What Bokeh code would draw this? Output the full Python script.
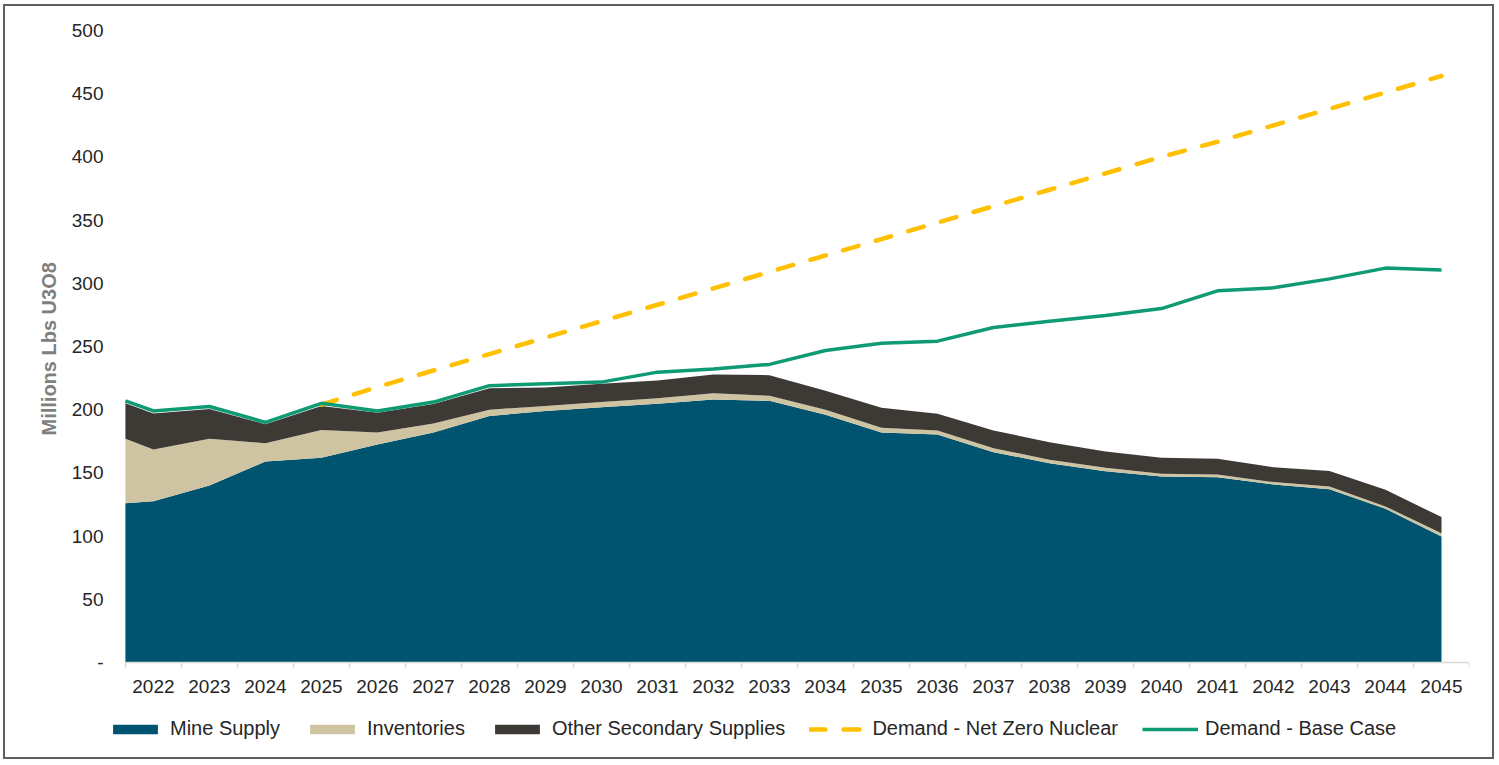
from bokeh.plotting import figure
from bokeh.models import Range1d, FixedTicker, ColumnDataSource, Legend, LegendItem, Title
from bokeh.embed import file_html
from bokeh.resources import INLINE

# ---- data ----
# first point is the left edge of the category axis (half a year before 2022)
years = [2021.5, 2022, 2023, 2024, 2025, 2026, 2027, 2028, 2029, 2030, 2031, 2032,
         2033, 2034, 2035, 2036, 2037, 2038, 2039, 2040, 2041, 2042, 2043, 2044, 2045]
mine_supply = [126, 127.5, 140, 159, 162, 172.5, 182, 195, 199, 202, 204.7, 208,
               207, 196, 182, 180.4, 166.4, 157.7, 151.3, 147.2, 146.6, 140.8, 137, 121.6, 99.7]
inventories = [51, 41, 37, 14.5, 22, 9.5, 7, 5, 4, 4, 4.3, 5,
               4, 4, 3.7, 3.1, 3.1, 2.7, 2.7, 2.1, 2.1, 1.9, 2.2, 1.8, 2.6]
other_secondary = [28, 28.5, 23.5, 15, 19, 15.5, 15.5, 17, 14.5, 14.5, 14, 14.8,
                   16.3, 15, 15.8, 13.2, 14, 13.9, 13, 12.7, 12.4, 11.8, 12.2, 13.2, 12.7]
demand_base = [207, 199, 202.5, 190, 205, 199, 206, 219, 220.5, 221.8, 229.7, 232.2,
               235.8, 246.8, 252.6, 254.2, 265, 270, 274.5, 280, 294, 296.4, 303.5, 312, 310.5]

nz_years = [2025, 2026, 2027, 2028, 2029, 2030, 2031, 2032, 2033, 2034, 2035,
            2036, 2037, 2038, 2039, 2040, 2041, 2042, 2043, 2044, 2045]
demand_net_zero = [204, 218, 231, 244, 257, 270, 283, 296, 309, 322, 335,
                   348, 361, 374, 387, 400, 412, 425, 438, 451, 464]

x_tick_years = [2022, 2023, 2024, 2025, 2026, 2027, 2028, 2029, 2030, 2031, 2032, 2033,
                2034, 2035, 2036, 2037, 2038, 2039, 2040, 2041, 2042, 2043, 2044, 2045]
x_bounds = [2021.5, 2022.5, 2023.5, 2024.5, 2025.5, 2026.5, 2027.5, 2028.5, 2029.5,
            2030.5, 2031.5, 2032.5, 2033.5, 2034.5, 2035.5, 2036.5, 2037.5, 2038.5,
            2039.5, 2040.5, 2041.5, 2042.5, 2043.5, 2044.5, 2045.5]
y_ticks = [0, 50, 100, 150, 200, 250, 300, 350, 400, 450, 500]

series_names = ["Mine Supply", "Inventories", "Other Secondary Supplies"]
series_colors = ["#00546F", "#CFC4A2", "#3D3935"]

FONT = "Liberation Sans"

src = ColumnDataSource(dict(x=years, mine=mine_supply, inv=inventories,
                            other=other_secondary, base=demand_base))
nz_src = ColumnDataSource(dict(x=nz_years, y=demand_net_zero))

# the frame runs down to the bottom (and a little left of the data) so the legend can sit
# inside it, below the x axis that is pinned at y = 0
p = figure(frame_width=1362, frame_height=727,
           x_range=Range1d(2021.18, 2045.5), y_range=Range1d(-75.2, 500),
           output_backend="svg", toolbar_location=None,
           min_border_left=102, min_border_right=23, min_border_top=24, min_border_bottom=0)
p.outline_line_color = None
p.xgrid.visible = False
p.ygrid.visible = False
p.styles = {"border": "2px solid #5f5f5f", "margin-left": "3px", "margin-top": "4px"}

areas = p.varea_stack(["mine", "inv", "other"], x="x", source=src, color=series_colors)
nz = p.line("x", "y", source=nz_src, line_color="#FFC000", line_width=4.5,
            line_dash="16 18", line_cap="round")
base = p.line("x", "base", source=src, line_color="#0E9A72", line_width=3.5, line_join="round")

# x axis pinned at y = 0
p.xaxis.fixed_location = 0
p.xaxis.bounds = (2021.5, 2045.5)
p.xaxis.ticker = FixedTicker(ticks=x_tick_years, minor_ticks=x_bounds)
p.xaxis.axis_line_color = "#D9D9D9"
p.xaxis.axis_line_width = 1.5
p.xaxis.major_tick_line_color = None
p.xaxis.major_tick_out = 0
p.xaxis.major_tick_in = 0
p.xaxis.minor_tick_line_color = "#D9D9D9"
p.xaxis.minor_tick_line_width = 1.5
p.xaxis.minor_tick_out = 6
p.xaxis.minor_tick_in = 0
p.xaxis.major_label_standoff = 12
p.xaxis.major_label_text_font = FONT
p.xaxis.major_label_text_font_size = "19px"
p.xaxis.major_label_text_color = "#262626"

p.yaxis.ticker = FixedTicker(ticks=y_ticks)
p.yaxis.major_label_overrides = {0: "-"}
p.yaxis.axis_line_color = None
p.yaxis.major_tick_line_color = None
p.yaxis.minor_tick_line_color = None
p.yaxis.major_tick_out = 0
p.yaxis.major_tick_in = 0
p.yaxis.major_label_standoff = 4
p.yaxis.major_label_text_font = FONT
p.yaxis.major_label_text_font_size = "19px"
p.yaxis.major_label_text_color = "#262626"

ytitle = Title(text="Millions Lbs U3O8", align="left", offset=322, standoff=18,
               text_font=FONT, text_font_size="20px", text_font_style="bold",
               text_color="#7F7F7F")
p.add_layout(ytitle, "left")

items = [LegendItem(label=n, renderers=[r]) for n, r in zip(series_names, areas)]
items.append(LegendItem(label="Demand - Net Zero Nuclear", renderers=[nz]))
items.append(LegendItem(label="Demand - Base Case", renderers=[base]))
legend = Legend(items=items, orientation="horizontal", location=(0, 17),
                border_line_color=None, background_fill_alpha=0, padding=0, margin=0,
                spacing=24, glyph_width=56, glyph_height=12, label_standoff=7,
                label_text_font=FONT, label_text_font_size="20px", label_text_color="#262626")
p.add_layout(legend, "center")

open("out.html", "w").write(file_html(p, INLINE))
